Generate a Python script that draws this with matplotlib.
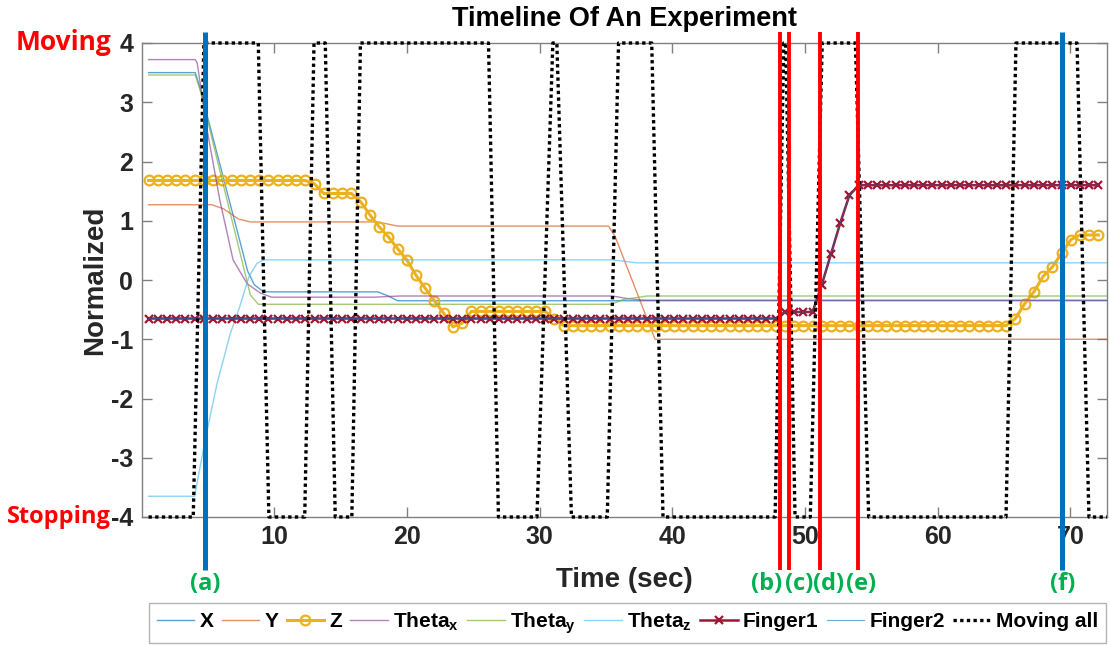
import matplotlib
matplotlib.use("Agg")
import matplotlib.pyplot as plt
import numpy as np

plt.rcParams['font.family'] = ['Liberation Sans', 'DejaVu Sans']
plt.rcParams['mathtext.fontset'] = 'custom'
plt.rcParams['mathtext.rm'] = 'Liberation Sans'
plt.rcParams['mathtext.bf'] = 'Liberation Sans:bold'
plt.rcParams['axes.unicode_minus'] = False

# ---- data ----
x_t = [0.53, 4.05, 4.4, 8.0, 8.5, 9.2, 17.8, 18.6, 19.3, 72.76]
x_v = [3.50, 3.50, 3.25, 0.15, -0.08, -0.20, -0.20, -0.27, -0.35, -0.35]

y_t = [0.53, 5.3, 6.2, 7.3, 8.2, 17.8, 19.3, 35.2, 35.7, 38.7, 72.76]
y_v = [1.27, 1.27, 1.20, 1.03, 0.98, 0.98, 0.91, 0.91, 0.73, -1.00, -1.00]

thx_t = [0.53, 4.05, 4.2, 4.9, 5.9, 6.9, 7.95, 8.95, 9.8, 17.5, 19.5, 35.5, 36.5, 37.8, 72.76]
thx_v = [3.72, 3.72, 3.66, 2.59, 1.35, 0.34, -0.06, -0.22, -0.29, -0.29, -0.27, -0.27, -0.31, -0.34, -0.34]

thy_t = [0.53, 4.05, 4.4, 8.2, 8.8, 35.4, 36.3, 38.1, 72.76]
thy_v = [3.46, 3.46, 3.22, -0.25, -0.41, -0.41, -0.33, -0.27, -0.27]

thz_t = [0.53, 4.0, 4.8, 5.7, 6.7, 7.4, 8.1, 8.7, 9.2, 35.5, 37.3, 72.76]
thz_v = [-3.65, -3.65, -2.70, -1.74, -0.90, -0.45, 0.06, 0.28, 0.34, 0.34, 0.29, 0.29]

# sampled series (one value per marker)
sample_t = 0.53 + 0.695 * np.arange(104)
z_v = ([1.68] * 18 + [1.62] + [1.46] * 4
       + [1.32, 1.10, 0.90, 0.73, 0.53, 0.34, 0.08, -0.14, -0.35, -0.56, -0.79, -0.73, -0.53]
       + [-0.53] * 8 + [-0.65] + [-0.77] * 49
       + [-0.65, -0.40, -0.20, 0.06, 0.22, 0.45, 0.68, 0.76, 0.76, 0.76])
finger1_v = [-0.65] * 69 + [-0.54] * 4 + [-0.08, 0.44, 0.96, 1.43] + [1.60] * 27
finger2_v = finger1_v

move_t = [0.53, 3.9, 4.7, 8.8, 9.6, 12.3, 13.0, 13.85, 14.6, 15.85, 16.5, 26.15, 26.9, 29.8,
          31.0, 31.3, 32.4, 35.1, 35.95, 38.45, 39.3, 47.75, 48.4, 48.55, 49.25, 50.4, 51.3,
          53.8, 54.8, 65.15, 65.9, 70.5, 71.4, 72.76]
move_v = [-4, -4, 4, 4, -4, -4, 4, 4, -4, -4, 4, 4, -4, -4, 4, 4, -4, -4, 4, 4, -4, -4,
          4, 4, -4, -4, 4, 4, -4, -4, 4, 4, -4, -4]

event_labels = ['(a)', '(b)', '(c)', '(d)', '(e)', '(f)']
event_t = [4.8, 48.1, 48.8, 51.1, 54.0, 69.4]
event_label_t = [4.8, 47.1, 49.55, 51.8, 54.25, 69.4]
event_colors = ['#0072BD', 'red', 'red', 'red', 'red', '#0072BD']

fig = plt.figure(figsize=(11.1, 6.45), dpi=100)
ax = fig.add_axes([141.5 / 1110, 128 / 645, 965.5 / 1110, 474 / 645])

ax.plot(x_t, x_v, color='#0072BD', lw=1.0, alpha=0.65, label='X')
ax.plot(y_t, y_v, color='#D95319', lw=1.0, alpha=0.65, label='Y')
ax.plot(sample_t, z_v, color='#EDB120', lw=2.2, marker='o', ms=7, mfc='none',
        mew=1.6, label='Z')
ax.plot(thx_t, thx_v, color='#7E2F8E', lw=1.0, alpha=0.6, label=r'Theta$_\mathbf{x}$')
ax.plot(thy_t, thy_v, color='#77AC30', lw=1.0, alpha=0.65, label=r'Theta$_\mathbf{y}$')
ax.plot(thz_t, thz_v, color='#4DBEEE', lw=1.0, alpha=0.65, label=r'Theta$_\mathbf{z}$')
ax.plot(sample_t, finger1_v, color='#A2142F', lw=1.8, marker='x', ms=6, mew=1.6,
        label='Finger1')
ax.plot(sample_t, finger2_v, color='#0072BD', lw=0.8, alpha=0.6, label='Finger2')
ax.plot(move_t, move_v, color='black', lw=2.4, ls=(0, (1, 1)), clip_on=False,
        zorder=5, label='Moving all')

for t, c in zip(event_t, event_colors):
    ax.plot([t, t], [4.19, -4.89], color=c, lw=3.6 if c != 'red' else 2.8,
            clip_on=False, zorder=6, solid_capstyle='butt')
for lab, t in zip(event_labels, event_label_t):
    ax.text(t, -5.13, lab, color='#00B050', fontsize=17, fontweight='bold',
            ha='center', va='center', family=['Open Sans', 'DejaVu Sans'])

ax.set_xlim(0, 72.76)
ax.set_ylim(-4, 4)
ax.set_xticks([10, 20, 30, 40, 50, 60, 70])
ax.set_yticks([-4, -3, -2, -1, 0, 1, 2, 3, 4])
ax.tick_params(direction='in', length=7, width=1, top=True, right=True, color='#808080',
               labelsize=18, labelcolor='#262626', pad=6)
for lbl in ax.get_xticklabels() + ax.get_yticklabels():
    lbl.set_fontweight('bold')
for s in ax.spines.values():
    s.set_color('#808080')
    s.set_linewidth(1)

ax.set_title('Timeline Of An Experiment', fontsize=19.5, fontweight='bold', pad=12)
ax.set_xlabel('Time (sec)', fontsize=20, fontweight='bold', color='#262626', labelpad=13)
ax.set_ylabel('Normalized', fontsize=20, fontweight='bold', color='#262626', labelpad=2)

ax.text(-0.0316, 4, 'Moving', transform=ax.get_yaxis_transform(), color='red',
        fontsize=19, fontweight='bold', ha='right', va='center',
        family=['Open Sans', 'DejaVu Sans'])
ax.text(-0.032, -4, 'Stopping', transform=ax.get_yaxis_transform(), color='red',
        fontsize=17, fontweight='bold', ha='right', va='center',
        family=['Open Sans', 'DejaVu Sans'])

leg = fig.legend(loc='upper center', bbox_to_anchor=(0.5653, 42 / 645), ncol=9,
                 prop={'weight': 'bold', 'size': 15}, handlelength=1.8,
                 handletextpad=0.25, columnspacing=0.4, borderpad=0.35,
                 fancybox=False, edgecolor='#A0A0A0', borderaxespad=0)
leg.get_frame().set_linewidth(1)

fig.savefig('out.png', dpi=100)
